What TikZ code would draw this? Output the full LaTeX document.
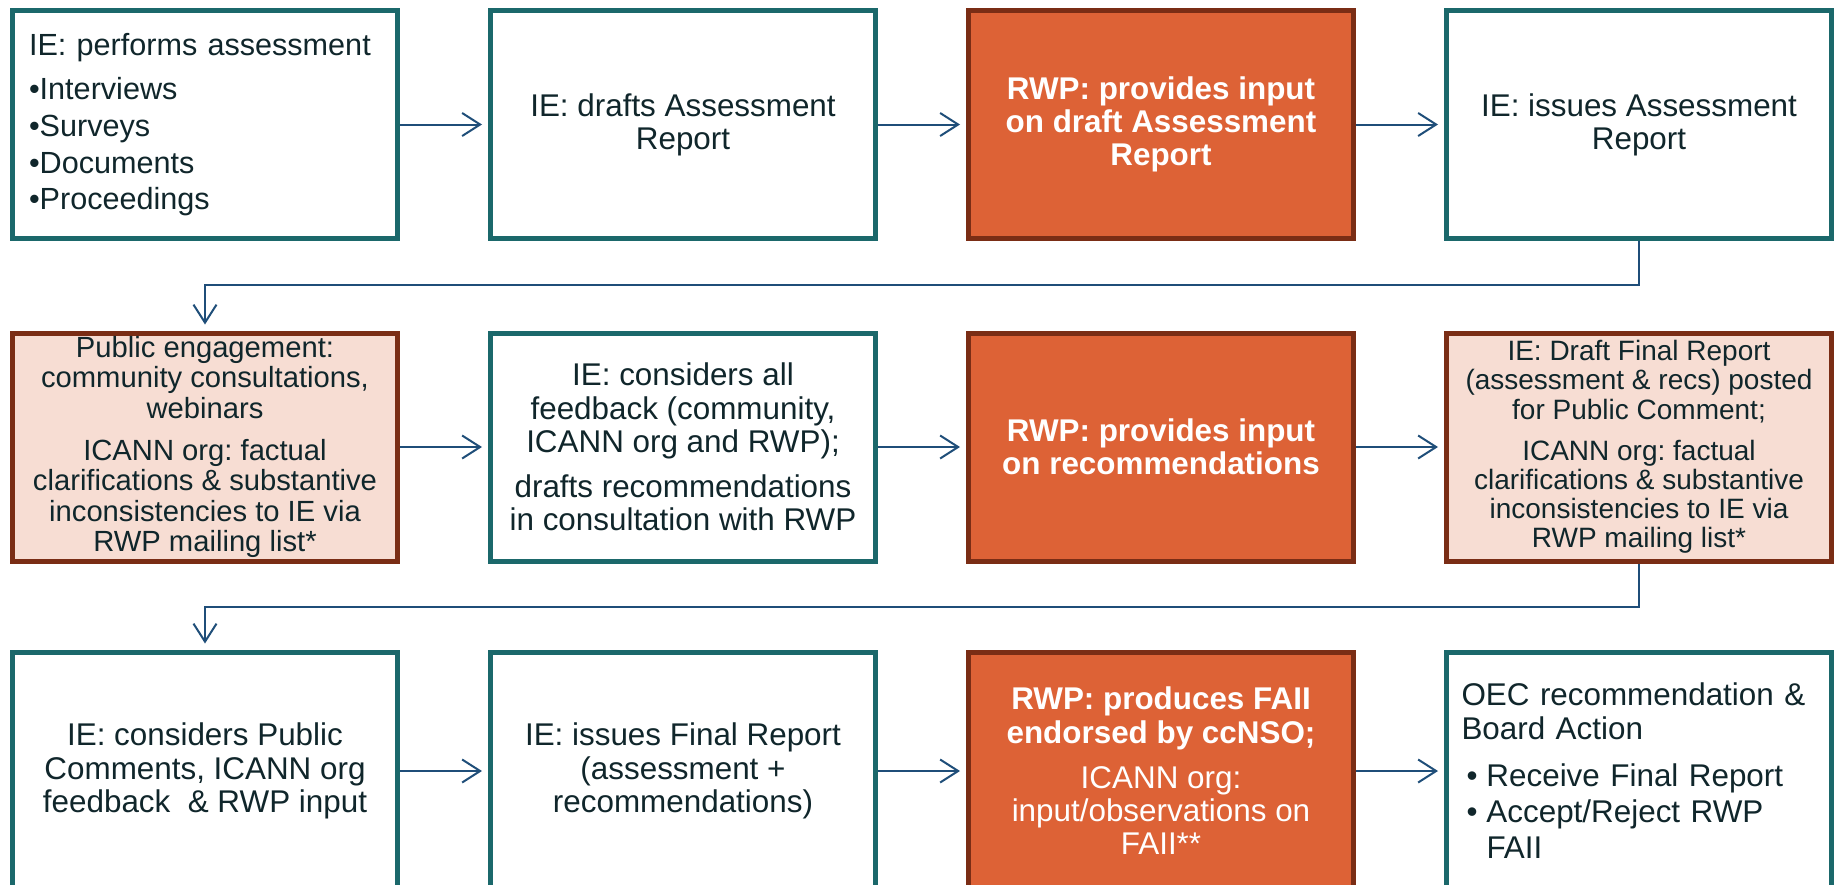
\documentclass[tikz,border=0pt]{standalone}
\usepackage{fontspec}
\setmainfont{Liberation Sans}
\usetikzlibrary{arrows.meta}

\definecolor{ieteal}{HTML}{1B686B}
\definecolor{rwpbrown}{HTML}{7A2D15}
\definecolor{rwporange}{HTML}{DD6236}
\definecolor{pubpink}{HTML}{F7DDD3}
\definecolor{flowblue}{HTML}{1F4E79}
\definecolor{txtdark}{HTML}{10262B}

\newcommand{\bul}{\hspace*{2.5pt}\makebox[10pt][l]{•}}

\begin{document}
\frenchspacing
\begin{tikzpicture}[x=0.5pt,y=-0.5pt,
	box/.style={rectangle, line width=2.5pt, minimum width=192.5pt, minimum height=114pt, inner sep=0pt, text=txtdark, align=center, font=\fontsize{15.7}{16.6}\selectfont},
	iebox/.style={box, draw=ieteal, fill=white},
	rwpbox/.style={box, draw=rwpbrown, fill=rwporange, text=white, font=\fontsize{15.7}{16.6}\selectfont\bfseries},
	pubbox/.style={box, draw=rwpbrown, fill=pubpink},
	flow/.style={draw=flowblue, line width=1pt, -{Straight Barb[length=9pt,width=11.5pt]}, shorten >=3pt}]

	\useasboundingbox (0,0) rectangle (1837,884);
	\clip (0,0) rectangle (1837,884);

	
	\node[iebox, align=left, text width=176pt, font=\fontsize{15.3}{18.3}\selectfont] (perform) at (205,124.5) {IE: performs assessment\\[4pt]•Interviews\\•Surveys\\•Documents\\•Proceedings};
	\node[iebox] (drafts) at (683,124.5) {IE: drafts Assessment\\Report};
	\node[rwpbox] (inputdraft) at (1161,124.5) {RWP: provides input\\on draft Assessment\\Report};
	\node[iebox] (issues) at (1639,124.5) {IE: issues Assessment\\Report};

	
	\node[pubbox, font=\fontsize{14.6}{15.3}\selectfont] (engage) at (205,447) {Public engagement:\\community consultations,\\webinars\\[5.5pt]ICANN org: factual\\clarifications \& substantive\\inconsistencies to IE via\\RWP mailing list*};
	\node[iebox] (considers) at (683,447) {IE: considers all\\feedback (community,\\ICANN org and RWP);\\[6pt]drafts recommendations\\in consultation with RWP};
	\node[rwpbox] (inputrecs) at (1161,447) {RWP: provides input\\on recommendations};
	\node[pubbox, font=\fontsize{14}{14.6}\selectfont] (draftfinal) at (1639,447) {IE: Draft Final Report\\(assessment \& recs) posted\\for Public Comment;\\[6pt]ICANN org: factual\\clarifications \& substantive\\inconsistencies to IE via\\RWP mailing list*};

	
	\node[iebox, minimum height=119pt] (pubcomments) at (205,771) {IE: considers Public\\Comments, ICANN org\\feedback\ \ \& RWP input};
	\node[iebox, minimum height=119pt] (final) at (683,771) {IE: issues Final Report\\(assessment +\\recommendations)};
	\node[rwpbox, minimum height=119pt, font=\fontsize{15.7}{16.6}\selectfont] (faii) at (1161,771) {\bfseries RWP: produces FAII\\\bfseries endorsed by ccNSO;\\[6pt]ICANN org:\\input/observations on\\FAII**};
	\node[iebox, minimum height=119pt, align=left, text width=177.5pt] (board) at (1639,771) {OEC recommendation \&\\Board Action\\[7pt]\bul Receive Final Report\\[1.5pt]\bul Accept/Reject RWP\\[1.5pt]\hspace*{12.5pt}FAII};

	
	\draw[flow] (perform) -- (drafts);
	\draw[flow] (drafts) -- (inputdraft);
	\draw[flow] (inputdraft) -- (issues);
	\draw[flow] (issues.south) -- ++(0,44) -| (engage.north);

	\draw[flow] (engage) -- (considers);
	\draw[flow] (considers) -- (inputrecs);
	\draw[flow] (inputrecs) -- (draftfinal);
	\draw[flow] (draftfinal.south) -- ++(0,43) -| (pubcomments.north);

	\draw[flow] (pubcomments) -- (final);
	\draw[flow] (final) -- (faii);
	\draw[flow] (faii) -- (board);

\end{tikzpicture}
\end{document}
